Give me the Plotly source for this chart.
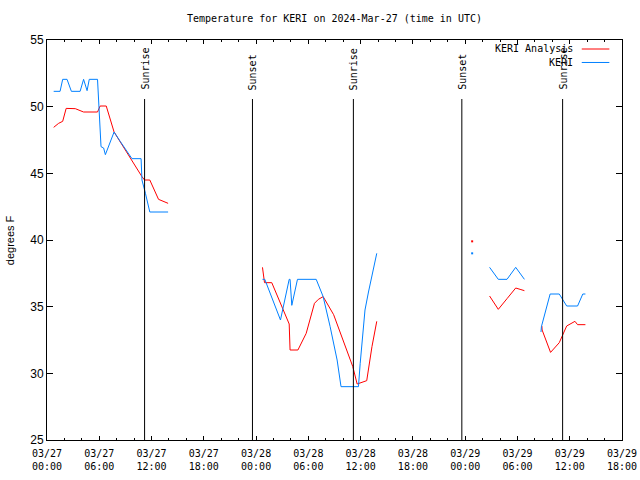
import plotly.graph_objects as go

# ---- data ----
red_times = [
    "2024-03-27 00:46", "2024-03-27 01:20", "2024-03-27 01:48", "2024-03-27 02:12",
    "2024-03-27 03:15", "2024-03-27 04:12", "2024-03-27 05:48", "2024-03-27 06:06",
    "2024-03-27 06:48", "2024-03-27 07:42", "2024-03-27 10:54", "2024-03-27 11:12",
    "2024-03-27 11:48", "2024-03-27 12:48", "2024-03-27 13:54", None,
    "2024-03-28 00:44", "2024-03-28 00:51", "2024-03-28 00:58", "2024-03-28 01:48",
    "2024-03-28 02:48", "2024-03-28 03:48", "2024-03-28 03:54", "2024-03-28 04:48",
    "2024-03-28 05:45", "2024-03-28 06:42", "2024-03-28 07:09", "2024-03-28 07:42",
    "2024-03-28 08:54", "2024-03-28 10:00", "2024-03-28 11:06", "2024-03-28 11:36",
    "2024-03-28 12:42", "2024-03-28 13:18", "2024-03-28 13:51", None,
    "2024-03-29 02:48", "2024-03-29 03:48", "2024-03-29 04:48", "2024-03-29 05:48",
    "2024-03-29 06:18", "2024-03-29 06:48", None,
    "2024-03-29 08:48", "2024-03-29 08:50", "2024-03-29 09:48", "2024-03-29 10:48",
    "2024-03-29 11:39", "2024-03-29 12:36", "2024-03-29 12:54", "2024-03-29 13:48",
]
red_values = [
    48.45, 48.75, 48.9, 49.87,
    49.85, 49.6, 49.6, 50.05,
    50.05, 48.1, 44.75, 44.5,
    44.5, 43.05, 42.75, None,
    37.95, 37.25, 36.8, 36.8,
    35.25, 33.7, 31.75, 31.75,
    33.0, 35.25, 35.55, 35.75,
    34.4, 32.5, 30.5, 29.2,
    29.45, 32.0, 33.9, None,
    35.8, 34.8, 35.6, 36.4,
    36.3, 36.2, None,
    33.55, 33.25, 31.57, 32.3,
    33.55, 33.9, 33.65, 33.65,
]

blue_times = [
    "2024-03-27 00:46", "2024-03-27 01:30", "2024-03-27 01:48", "2024-03-27 02:18",
    "2024-03-27 02:48", "2024-03-27 03:48", "2024-03-27 04:12", "2024-03-27 04:36",
    "2024-03-27 04:51", "2024-03-27 05:48", "2024-03-27 06:12", "2024-03-27 06:30",
    "2024-03-27 06:42", "2024-03-27 07:42", "2024-03-27 08:24", "2024-03-27 09:45",
    "2024-03-27 10:48", "2024-03-27 10:54", "2024-03-27 11:18", "2024-03-27 11:48",
    "2024-03-27 13:54", None,
    "2024-03-28 00:44", "2024-03-28 01:00", "2024-03-28 02:48", "2024-03-28 03:48",
    "2024-03-28 03:54", "2024-03-28 04:06", "2024-03-28 04:45", "2024-03-28 06:54",
    "2024-03-28 07:42", "2024-03-28 08:30", "2024-03-28 09:18", "2024-03-28 09:45",
    "2024-03-28 11:45", "2024-03-28 11:57", "2024-03-28 12:30", "2024-03-28 12:54",
    "2024-03-28 13:51", None,
    "2024-03-29 02:48", "2024-03-29 03:48", "2024-03-29 04:48", "2024-03-29 05:48",
    "2024-03-29 06:48", None,
    "2024-03-29 08:42", "2024-03-29 08:45", "2024-03-29 09:45", "2024-03-29 10:48",
    "2024-03-29 11:39", "2024-03-29 12:54", "2024-03-29 13:30", "2024-03-29 13:48",
]
blue_values = [
    51.15, 51.15, 52.05, 52.05,
    51.15, 51.15, 52.05, 51.2,
    52.05, 52.05, 47.0, 46.9,
    46.4, 48.1, 47.4, 46.1,
    46.1, 44.5, 43.5, 42.1,
    42.1, None,
    37.05, 37.05, 34.0, 37.05,
    37.05, 35.1, 37.05, 37.05,
    35.75, 33.5, 31.0, 29.0,
    29.0, 30.75, 34.75, 36.1,
    39.0, None,
    37.95, 37.05, 37.05, 37.95,
    37.05, None,
    33.1, 33.5, 35.95, 35.95,
    35.05, 35.05, 35.95, 35.95,
]

# isolated single observations
red_single_times = ["2024-03-29 00:48"]
red_single_values = [39.9]
blue_single_times = ["2024-03-29 00:48"]
blue_single_values = [39.0]

event_times = ["2024-03-27 11:12", "2024-03-27 23:35", "2024-03-28 11:10",
               "2024-03-28 23:37", "2024-03-29 11:11"]
event_labels = ["Sunrise", "Sunset", "Sunrise", "Sunset", "Sunrise"]

series_names = ["KERI Analysis", "KERI"]
RED = "#ff0000"
BLUE = "#0080ff"
MONO = "DejaVu Sans Mono"
SANS = "Liberation Sans"

fig = go.Figure()
fig.add_trace(go.Scatter(x=red_times, y=red_values, mode="lines",
                         line=dict(color=RED, width=1), connectgaps=False,
                         name=series_names[0], showlegend=False))
fig.add_trace(go.Scatter(x=blue_times, y=blue_values, mode="lines",
                         line=dict(color=BLUE, width=1), connectgaps=False,
                         name=series_names[1], showlegend=False))
fig.add_trace(go.Scatter(x=red_single_times, y=red_single_values, mode="markers",
                         marker=dict(color=RED, size=2, symbol="square"), showlegend=False))
fig.add_trace(go.Scatter(x=blue_single_times, y=blue_single_values, mode="markers",
                         marker=dict(color=BLUE, size=2, symbol="square"), showlegend=False))

shapes = []
annotations = []
for t, lab in zip(event_times, event_labels):
    shapes.append(dict(type="line", xref="x", yref="paper", x0=t, x1=t,
                       y0=0, y1=0.8525, line=dict(color="black", width=1)))
    annotations.append(dict(x=t, y=0.87, xref="x", yref="paper", text=lab,
                            showarrow=False, textangle=-90, xanchor="center",
                            yanchor="bottom", font=dict(family=MONO, size=10, color="black")))

# legend drawn manually (text left of sample line, like the reference)
legend_colors = [RED, BLUE]
legend_y = [0.9775, 0.9438]
for name, col, yy in zip(series_names, legend_colors, legend_y):
    annotations.append(dict(x=0.918, y=yy, xref="paper", yref="paper", text=name,
                            showarrow=False, xanchor="right", yanchor="middle",
                            font=dict(family=MONO, size=10, color="black")))
    shapes.append(dict(type="line", xref="paper", yref="paper", x0=0.930, x1=0.978,
                       y0=yy, y1=yy, line=dict(color=col, width=1)))

annotations.append(dict(x=-0.064, y=0.5, xref="paper", yref="paper", text="degrees F",
                        showarrow=False, textangle=-90, xanchor="center", yanchor="middle",
                        font=dict(family=SANS, size=11, color="black")))

fig.update_layout(
    width=640, height=480,
    margin=dict(l=47, r=18, t=40, b=40, autoexpand=False),
    paper_bgcolor="white", plot_bgcolor="white",
    title=dict(text="Temperature for KERI on 2024-Mar-27 (time in UTC)",
               x=0.5, xref="paper", xanchor="center", y=0.9625, yanchor="middle",
               font=dict(family=MONO, size=10, color="black")),
    showlegend=False,
    shapes=shapes, annotations=annotations,
    xaxis=dict(type="date", range=["2024-03-27 00:00", "2024-03-29 18:00"],
               tick0="2024-03-27 00:00", dtick=6 * 3600 * 1000,
               tickformat="%m/%d<br>%H:%M", ticks="inside", ticklen=4,
               tickcolor="black", showline=True, linecolor="black", linewidth=1,
               mirror="ticks", showgrid=False, zeroline=False, automargin=False,
               ticklabelstandoff=4,
               minor=dict(dtick=2 * 3600 * 1000, ticks="inside", ticklen=2,
                          tickcolor="black", showgrid=False),
               tickfont=dict(family=MONO, size=10, color="black")),
    yaxis=dict(range=[25, 55], dtick=5, tick0=25, ticks="inside", ticklen=6,
               tickcolor="black", showline=True, linecolor="black", linewidth=1,
               mirror="ticks", showgrid=False, zeroline=False, automargin=False,
               tickfont=dict(family=SANS, size=12, color="black")),
)

fig.write_html("out.html", config={"displayModeBar": False},
               post_script="document.body.style.margin='0';document.body.style.padding='0';")
